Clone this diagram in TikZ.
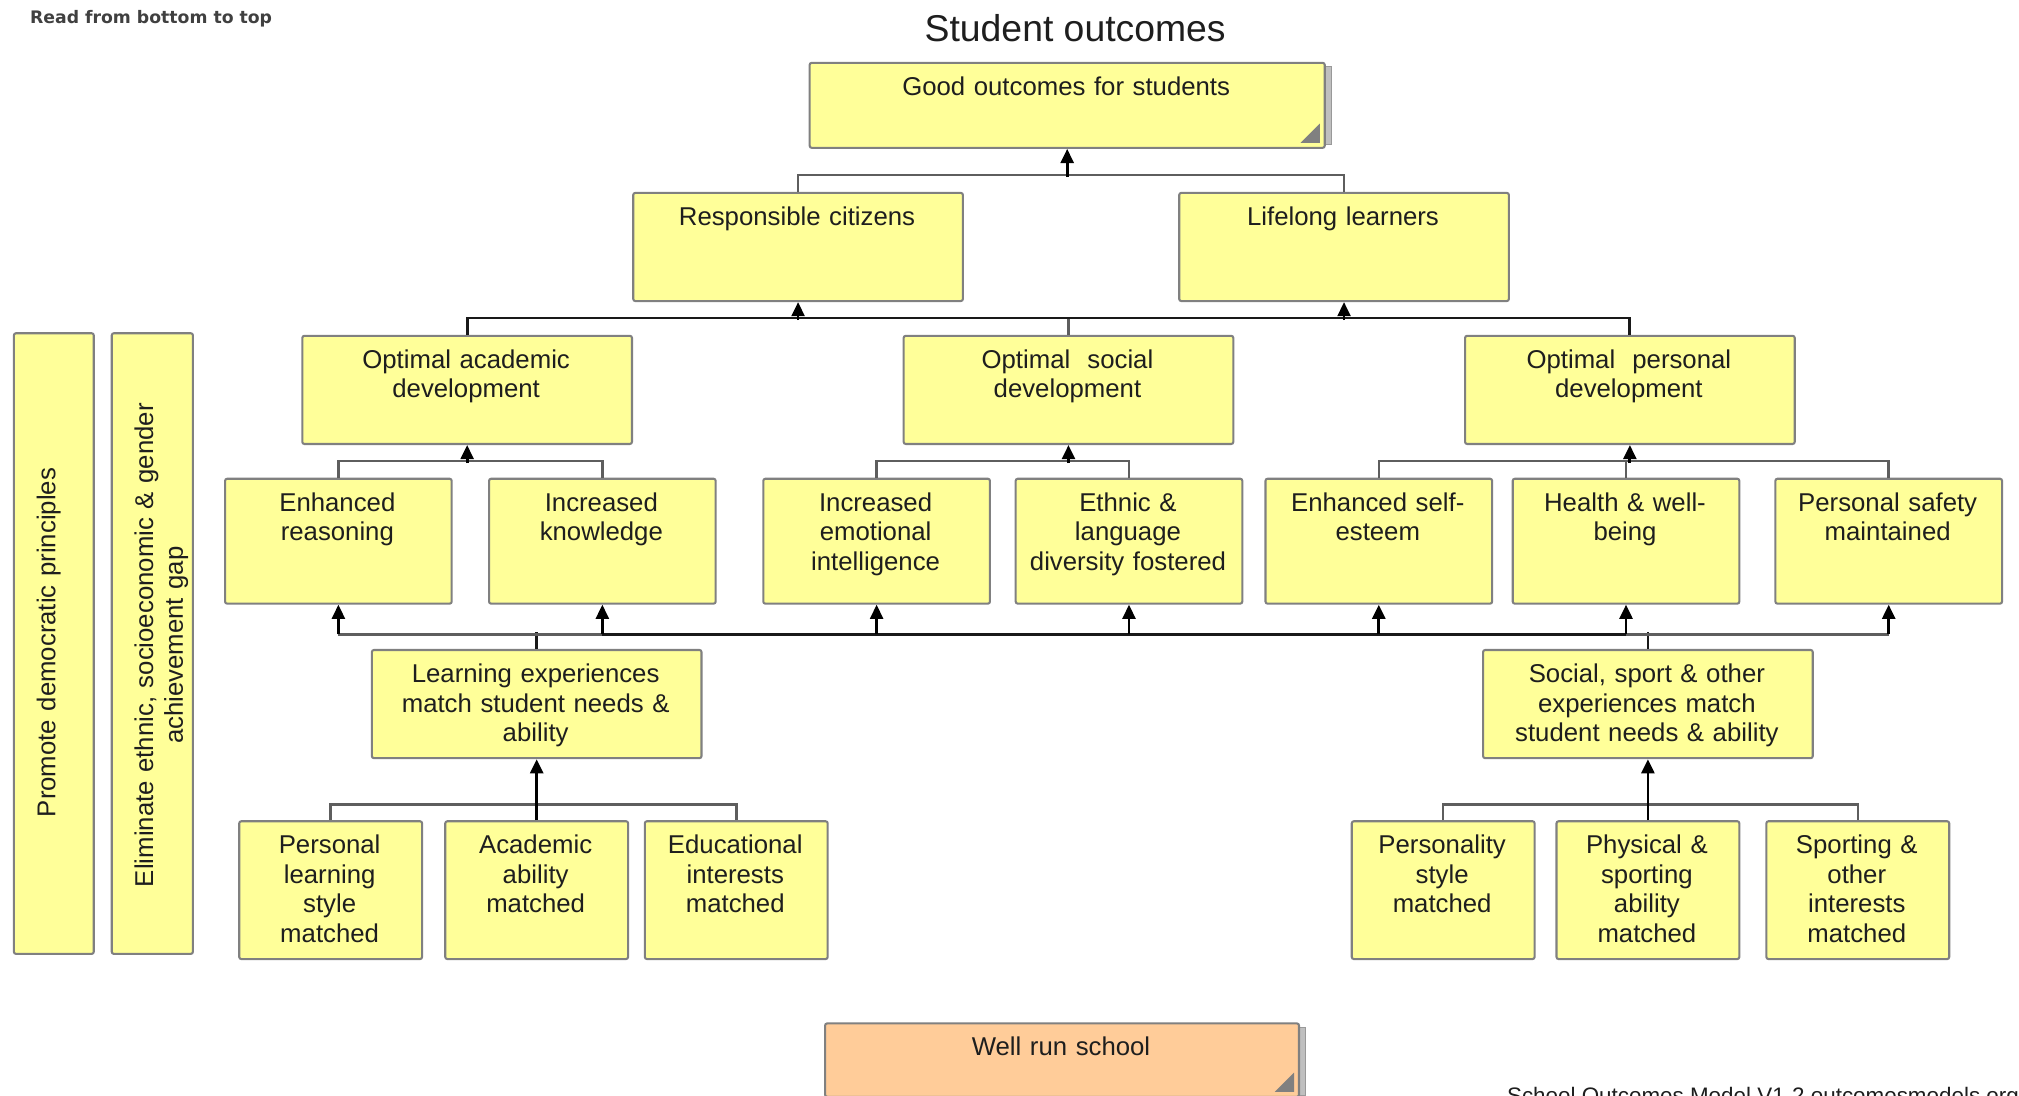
\documentclass[tikz,border=0pt]{standalone}
\usepackage{fontspec}
\setmainfont{Liberation Sans}
\newfontfamily\smallfont{DejaVu Sans}
\usetikzlibrary{arrows.meta}
\definecolor{boxyellow}{HTML}{FFFF99}
\definecolor{boxsalmon}{HTML}{FFCC99}
\definecolor{boxline}{HTML}{808080}
\definecolor{forkline}{HTML}{5E5E5E}
\definecolor{txtcol}{HTML}{1E1E1E}
\tikzset{
 box/.style={draw=boxline, line width=0.8pt, fill=boxyellow, rounded corners=0.8pt, inner sep=0pt},
 salmonbox/.style={box, fill=boxsalmon},
 txt/.style={inner sep=0pt, align=center, text=txtcol, font=\fontsize{10}{11.5}\selectfont},
 fork/.style={draw=forkline, line width=1pt},
 bar/.style={draw=black!90, line width=1.1pt},
 arr/.style={draw=black, line width=1.1pt, -{Triangle[length=5.5pt,width=5pt]}},
 shadowbar/.style={fill=black!25, draw=black!40, line width=0.4pt},
 corner/.style={fill=black!50},
}
\newcommand\bx[7][box]{%
 \pgfmathsetmacro\bw{(#5-#3)*0.5}%
 \pgfmathsetmacro\bh{(#6-#4)*0.5}%
 \pgfmathsetmacro\tw{(#5-#3)*0.5-6}%
 \node[#1, anchor=north west, minimum width=\bw pt, minimum height=\bh pt] (#2) at (#3,#4) {};
 \node[txt, text width=\tw pt, anchor=base] (#2-t) at ({(#3+#5)/2},{#4+26}) {#7};
}
\begin{document}
\begin{tikzpicture}[x=0.5pt,y=-0.5pt]
\useasboundingbox (0,0) rectangle (1568,851);
\clip (0,0) rectangle (1568,851);
\fill[white] (0,0) rectangle (1568,851);

% texts
\node[font=\smallfont\bfseries\fontsize{6.7}{8}\selectfont, text=black!75, anchor=base west, inner sep=0pt] (read) at (23,18) {Read from bottom to top};
\node[font=\fontsize{14.5}{17}\selectfont, text=txtcol, anchor=base, inner sep=0pt] (title) at (835,32) {Student outcomes};
\node[inner sep=0pt, text=txtcol, font=\fontsize{8.7}{10}\selectfont, anchor=base west] (footer) at (1170,857) {School Outcomes Model V1-2 outcomesmodels.org};

% shadows
\path[shadowbar] (1022,52) rectangle (1034,112);
\path[shadowbar] (1002,798) rectangle (1014,851);

% boxes
\bx{good}{628}{48}{1028}{114}{Good outcomes for students}
\bx{rc}{491}{149}{747}{233}{Responsible citizens}
\bx{ll}{915}{149}{1171}{233}{Lifelong learners}
\bx{oad}{234}{260}{490}{344}{Optimal academic\\ development}
\bx{osd}{701}{260}{957}{344}{Optimal~ social\\ development}
\bx{opd}{1137}{260}{1393}{344}{Optimal~ personal\\ development}
\bx{er}{174}{371}{350}{468}{Enhanced\\ reasoning}
\bx{ik}{379}{371}{555}{468}{Increased\\ knowledge}
\bx{iei}{592}{371}{768}{468}{Increased\\ emotional\\ intelligence}
\bx{eld}{788}{371}{964}{468}{Ethnic \&\\ language\\ diversity fostered}
\bx{ese}{982}{371}{1158}{468}{Enhanced self-\\ esteem}
\bx{hwb}{1174}{371}{1350}{468}{Health \& well-\\ being}
\bx{psm}{1378}{371}{1554}{468}{Personal safety\\ maintained}
\bx{lem}{288}{504}{544}{588}{Learning experiences\\ match student needs \&\\ ability}
\bx{sse}{1151}{504}{1407}{588}{Social, sport \& other\\ experiences match\\ student needs \& ability}
\bx{pls}{185}{637}{327}{744}{Personal\\ learning\\ style\\ matched}
\bx{aam}{345}{637}{487}{744}{Academic\\ ability\\ matched}
\bx{eim}{500}{637}{642}{744}{Educational\\ interests\\ matched}
\bx{pst}{1049}{637}{1191}{744}{Personality\\ style\\ matched}
\bx{pss}{1208}{637}{1350}{744}{Physical \&\\ sporting\\ ability\\ matched}
\bx{som}{1371}{637}{1513}{744}{Sporting \&\\ other\\ interests\\ matched}
\bx[salmonbox]{wrs}{640}{794}{1008}{851}{Well run school}

% corner triangles
\fill[corner] (1025,111) -- (1025,96) -- (1010,111) -- cycle;
\fill[corner] (1005,848) -- (1005,833) -- (990,848) -- cycle;

% vertical boxes
\node[box, anchor=north west, minimum width=31pt, minimum height=241pt] (vp) at (10,258) {};
\node[txt, rotate=90, text width=230pt, anchor=base] (vp-t) at (43,499) {Promote democratic principles};
\node[box, anchor=north west, minimum width=31.5pt, minimum height=241pt] (ve) at (86,258) {};
\node[txt, rotate=90, text width=230pt, anchor=base] (ve-t) at (119,501) {Eliminate ethnic, socioeconomic \& gender\\ achievement gap};

% level 2 -> 1
\draw[fork] (rc.north) -- ++(0,-13) -| (ll.north);
\draw[arr] ([yshift=-11pt]good.south) -- (good.south);

% level 3 -> 2
\draw[fork] (osd.north) -- ++(0,-13);
\draw[bar] (oad.north) -- ++(0,-13) -| (opd.north);
\draw[arr] ([yshift=-7pt]rc.south) -- (rc.south);
\draw[arr] ([yshift=-7pt]ll.south) -- (ll.south);

% level 4 -> 3
\draw[fork] (er.north) -- ++(0,-13) -| (ik.north);
\draw[arr] ([yshift=-7pt]oad.south) -- (oad.south);
\draw[fork] (iei.north) -- ++(0,-13) -| (eld.north);
\draw[arr] ([yshift=-7pt]osd.south) -- (osd.south);
\draw[fork] (ese.north) -- ++(0,-13) -| (psm.north);
\draw[fork] (hwb.north) -- ++(0,-13);
\draw[arr] ([yshift=-7pt]opd.south) -- (opd.south);

% level 5 -> 4
\draw[bar] (lem.north) -- ++(0,-13);
\draw[bar] (sse.north) -- ++(0,-13);
\draw[fork] ([yshift=-11.5pt]er.south) -- ([yshift=-11.5pt]ik.south);
\draw[bar] ([yshift=-11.5pt]ik.south) -- ([yshift=-11.5pt]hwb.south);
\draw[fork] ([yshift=-11.5pt]hwb.south) -- ([yshift=-11.5pt]psm.south);
\foreach \n in {er,ik,iei,eld,ese,hwb,psm}{
  \draw[arr] ([yshift=-11.5pt]\n.south) -- (\n.south);
}

% level 6 -> 5
\draw[fork] (pls.north) -- ++(0,-12) -| (eim.north);
\draw[arr] (aam.north) -- (lem.south);
\draw[fork] (pst.north) -- ++(0,-12) -| (som.north);
\draw[arr] (pss.north) -- (sse.south);
\end{tikzpicture}
\end{document}
